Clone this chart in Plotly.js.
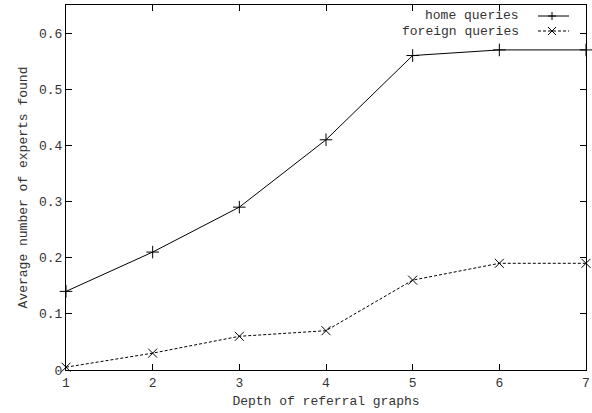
<!DOCTYPE html>
<html><head><meta charset="utf-8">
<script src="https://cdn.plot.ly/plotly-3.0.1.min.js"></script>
<style>body{margin:0;padding:0;background:#fff}#chart{width:592px;height:413px}</style>
</head><body><div id="chart"></div>
<script>
const depth = [1, 2, 3, 4, 5, 6, 7];
const homeQueries = [0.14, 0.21, 0.29, 0.41, 0.56, 0.57, 0.57];
const foreignQueries = [0.005, 0.03, 0.06, 0.07, 0.16, 0.19, 0.19];
const yTicks = [0, 0.1, 0.2, 0.3, 0.4, 0.5, 0.6];
const yTickText = ['0', '0.1', '0.2', '0.3', '0.4', '0.5', '0.6'];

const font = {family: 'Liberation Mono, DejaVu Sans Mono, monospace', size: 13, color: '#333'};

const traces = [
  {x: depth, y: homeQueries, mode: 'lines+markers', name: 'home queries',
   line: {color: '#000', width: 1},
   marker: {symbol: 'cross-thin-open', size: 9, color: '#000', line: {color: '#000', width: 1}},
   cliponaxis: false},
  {x: depth, y: foreignQueries, mode: 'lines+markers', name: 'foreign queries',
   line: {color: '#000', width: 1, dash: '3px,2px'},
   marker: {symbol: 'x-thin-open', size: 9, color: '#000', line: {color: '#000', width: 1}},
   cliponaxis: false}
];

// legend placement helpers (pixel -> paper)
const L = 66, T = 5, W = 520, H = 365;
const px = v => (v - L) / W;
const py = v => 1 - (v - T) / H;
const legendY = [16, 31];
const seg = (x0, y0, x1, y1, dash) => ({type: 'line', xref: 'paper', yref: 'paper',
  x0: px(x0), y0: py(y0), x1: px(x1), y1: py(y1), line: {color: '#000', width: 1, dash: dash || 'solid'}});

const layout = {
  width: 592, height: 413,
  margin: {l: 66, r: 6, t: 5, b: 43},
  paper_bgcolor: '#fff', plot_bgcolor: '#fff',
  font: font,
  showlegend: false,
  xaxis: {range: [1, 7], tickvals: depth, ticks: 'inside', ticklen: 6, tickcolor: '#000',
    showline: true, linecolor: '#000', linewidth: 1, mirror: 'allticks', showgrid: false, zeroline: false,
    title: {text: 'Depth of referral graphs', font: font, standoff: 6}, tickfont: font},
  yaxis: {range: [0, 0.65], tickvals: yTicks, ticktext: yTickText, ticks: 'inside', ticklen: 6, tickcolor: '#000',
    showline: true, linecolor: '#000', linewidth: 1, mirror: 'allticks', showgrid: false, zeroline: false,
    title: {text: 'Average number of experts found', font: font, standoff: 8}, tickfont: font},
  annotations: [
    {xref: 'paper', yref: 'paper', x: px(521), y: py(legendY[0]), xanchor: 'right', yanchor: 'middle',
     text: traces[0].name, showarrow: false, font: font},
    {xref: 'paper', yref: 'paper', x: px(521), y: py(legendY[1]), xanchor: 'right', yanchor: 'middle',
     text: traces[1].name, showarrow: false, font: font}
  ],
  shapes: [
    seg(538, legendY[0], 569, legendY[0]),
    seg(538, legendY[1], 569, legendY[1], '3px,2px'),
    seg(552, legendY[0] - 4, 552, legendY[0] + 4),
    seg(548, legendY[0], 556, legendY[0]),
    seg(548, legendY[1] - 4, 556, legendY[1] + 4),
    seg(548, legendY[1] + 4, 556, legendY[1] - 4)
  ]
};
Plotly.newPlot('chart', traces, layout, {staticPlot: true});
</script></body></html>
